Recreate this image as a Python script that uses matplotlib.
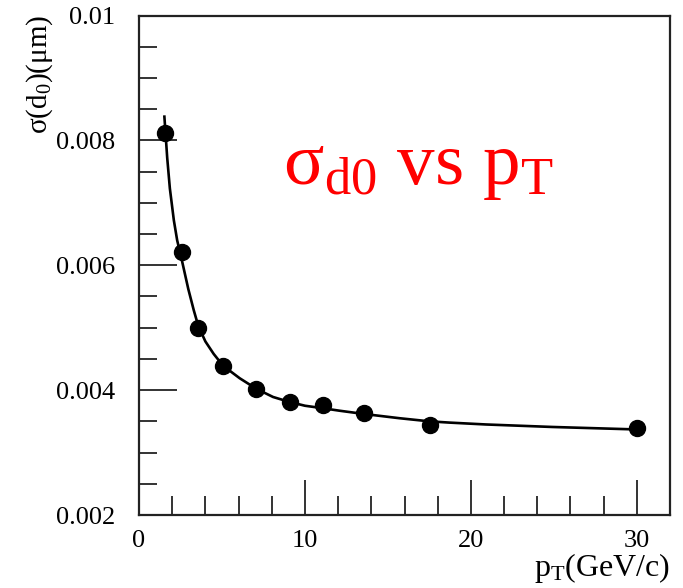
import matplotlib
matplotlib.use("Agg")
import matplotlib.pyplot as plt
from matplotlib.ticker import MultipleLocator

plt.rcParams['font.family'] = ['Liberation Serif', 'DejaVu Serif']
plt.rcParams['mathtext.fontset'] = 'custom'
plt.rcParams['mathtext.rm'] = 'Liberation Serif'
plt.rcParams['mathtext.it'] = 'Liberation Serif:italic'

# measured points
pt = [1.55, 2.6, 3.57, 5.07, 7.08, 9.08, 11.08, 13.53, 17.55, 30.0]
sigma_d0 = [0.00812, 0.00621, 0.00499, 0.00439, 0.00402, 0.00381, 0.00376, 0.00364, 0.00344, 0.00339]

# fitted curve
fit_pt = [1.53, 1.7, 1.86, 2.1, 2.3, 2.6, 2.97, 3.3, 3.57, 4.0, 4.5, 5.07, 6.07, 7.08, 8.08,
          9.08, 10.0, 11.08, 12.09, 13.5, 15.7, 17.5, 18.7, 20.9, 24.9, 30.0]
fit_sigma = [0.00838, 0.00772, 0.00723, 0.00672, 0.00640, 0.00606, 0.00562, 0.00528, 0.00503,
             0.00478, 0.00458, 0.00439, 0.00419, 0.00402, 0.00389, 0.00381, 0.00375, 0.00371,
             0.00367, 0.00362, 0.00355, 0.00350, 0.00348, 0.00345, 0.00341, 0.00337]

fig = plt.figure(figsize=(6.83, 5.88), dpi=100)
ax = fig.add_axes([139/683, 1-515/588, 531/683, 499.5/588])

ax.plot(fit_pt, fit_sigma, color='black', lw=1.9, zorder=2)
ax.plot(pt, sigma_d0, 'o', color='black', ms=11.5, zorder=3)

ax.set_xlim(0, 32)
ax.set_ylim(0.002, 0.01)
ax.xaxis.set_minor_locator(MultipleLocator(2))
ax.yaxis.set_minor_locator(MultipleLocator(0.0005))
ax.set_yticks([0.002, 0.004, 0.006, 0.008, 0.01])
ax.set_yticklabels(['0.002', '0.004', '0.006', '0.008', '0.01'])
ax.set_xticks([0, 10, 20, 30])
ax.set_xticklabels(['0', '10', '20', '30'])

ax.tick_params(which='both', direction='in', top=False, right=False, width=1.2, color='#111111')
ax.tick_params(axis='y', which='major', length=27, labelsize=19, pad=17)
ax.tick_params(axis='y', which='minor', length=13)
ax.tick_params(axis='x', which='major', length=25, labelsize=19, pad=11)
ax.tick_params(axis='x', which='minor', length=14)
for s in ax.spines.values():
    s.set_linewidth(1.6)
    s.set_color('#222222')

fig.text(670/683, 3/588, r'$\mathregular{p_{T}}$(GeV/c)',
         ha='right', va='bottom', fontsize=23)
fig.text(40/683, 1-15/588, r'$\mathregular{\sigma(d_{0})(\mu m)}$', rotation=90,
         ha='center', va='top', fontsize=21)

ax.text((283-139)/531, (515-184)/500, r'$\mathregular{\sigma_{d0}}$ vs $\mathregular{p_{T}}$',
        transform=ax.transAxes, ha='left', va='baseline', fontsize=54, color='#ff0000')

fig.savefig('out.png', dpi=100)
